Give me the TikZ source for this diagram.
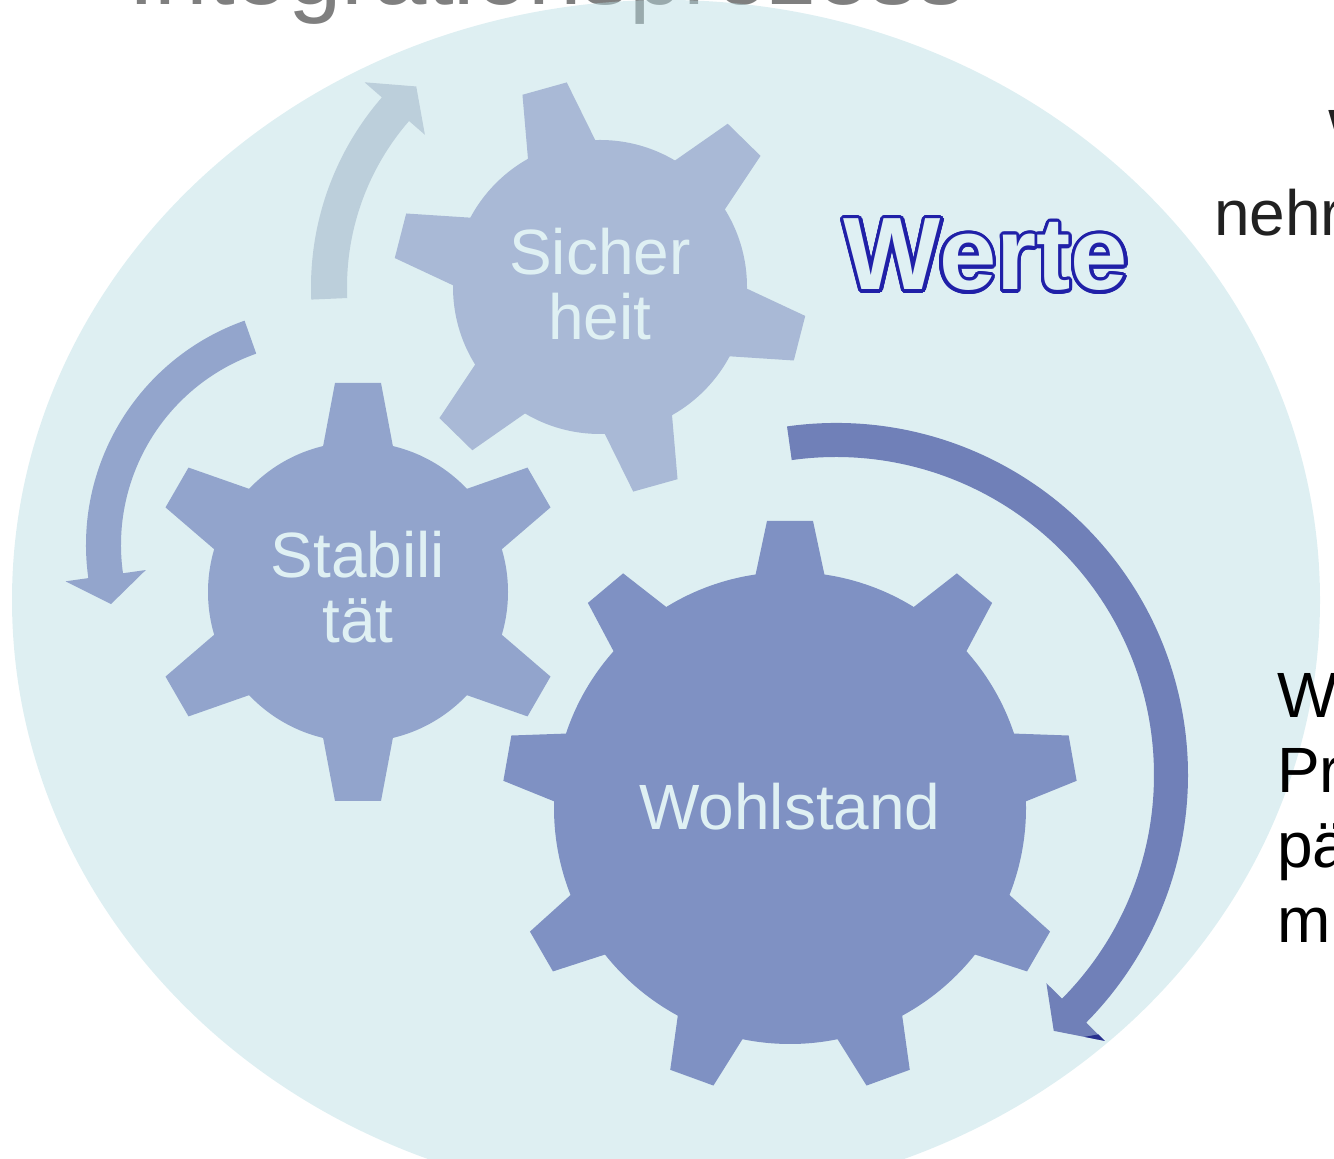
\documentclass[tikz,border=0pt]{standalone}
\usepackage{fontspec}
\setmainfont{Liberation Sans}
\usetikzlibrary{calc}

\definecolor{ringcol}{RGB}{184,221,227}
\definecolor{titlegray}{HTML}{7F7F7F}
\definecolor{gearone}{HTML}{A9B9D6}
\definecolor{geartwo}{HTML}{92A4CC}
\definecolor{gearthree}{HTML}{7F91C3}
\definecolor{arrowlight}{HTML}{BCCFDB}
\definecolor{arrowmid}{HTML}{93A5CC}
\definecolor{arrowdark}{HTML}{7080B8}
\definecolor{tipnavy}{HTML}{28308E}
\definecolor{gearfont}{HTML}{DFF0F3}
\definecolor{wertblau}{HTML}{2020A8}

% gear: centre x, centre y, body radius, tip radius, teeth, first angle, colour
\newcommand{\gearshape}[7]{%
  \begin{scope}[shift={(#1,#2)}]
    \fill[#7] (0,0) circle[radius=#3];
    \pgfmathsetmacro{\gstep}{360/#5}
    \foreach \k in {1,...,#5} {
      \fill[#7,rotate={#6+\k*\gstep}] (#3-10,-36) -- (#4,-23) -- (#4,23) -- (#3-10,36) -- cycle;
    }
  \end{scope}
}

\tikzset{
  geartext/.style={text=gearfont,font=\fontsize{64}{65}\selectfont,align=center,inner sep=0pt},
  sidetext/.style={font=\fontsize{64}{75}\selectfont,inner sep=0pt},
  werteword/.style={font=\bfseries\fontsize{103}{103}\selectfont,inner sep=0pt,anchor=base}
}

\begin{document}
\begin{tikzpicture}[x=1pt,y=1pt]
  \useasboundingbox (0,0) rectangle (1334,1159);
  \clip (0,0) rectangle (1334,1159);

  % title, mostly above the page
  \node[
    anchor=base west,
    inner sep=0pt,
    text=titlegray,
    font=\fontsize{96}{96}\selectfont] (title) at (128,1154) {Integrationsprozess};

  \fill[ringcol,opacity=0.465] (666,559) ellipse[x radius=654,y radius=600];

  % arrows
  \begin{scope}[shift={(600,872)}]
    \fill[arrowlight] (182.5:289) arc[start angle=182.5,end angle=139,radius=289]
      -- (139:312) -- (132.5:272) -- (139:232) -- (139:253)
      arc[start angle=139,end angle=182.5,radius=253] -- cycle;
  \end{scope}

  \begin{scope}[shift={(324,614)}]
    \fill[arrowmid] (109.5:238) arc[start angle=109.5,end angle=188,radius=238]
      -- (188:261) -- (195.5:221) -- (188:180) -- (188:203)
      arc[start angle=188,end angle=109.5,radius=203] -- cycle;
  \end{scope}

  \begin{scope}[shift={(836,384)}]
    \fill[arrowdark] (98:352) arc[start angle=98,end angle=-44.7,radius=352]
      -- (-44.7:378) -- (-49.6:336) -- (-44.7:296) -- (-44.7:318)
      arc[start angle=-44.7,end angle=98,radius=318] -- cycle;
    \fill[tipnavy] (-44.7:378) -- ($(-44.7:378)!0.4!(-49.6:336)$)
      -- ($(-44.7:378)!0.35!(-44.7:352)$) -- cycle;
  \end{scope}

  % gears
  \gearshape{600}{872}{147}{206}{6}{105.6}{gearone}
  \gearshape{358}{567}{150}{209}{6}{30}{geartwo}
  \gearshape{790}{351}{236}{287}{9}{10}{gearthree}

  \node[geartext] (sicher) at (600,874.4) {Sicher\\heit};
  \node[geartext] (stabil) at (358,571.4) {Stabili\\tät};
  \node[geartext,anchor=base] (wohl) at (790,329) {Wohlstand};

  % outlined word
  \foreach \a in {0,15,...,345}
    \node[werteword,text=wertblau] (werte-\a) at ($(986,869)+(\a:3.4)$) {Werte};
  \node[werteword,text=gearfont] (werte) at (986,869) {Werte};

  % text running off the right edge
  \node[sidetext,anchor=base west,text=black!87] (oben) at (1328,1004) {W};
  \node[sidetext,anchor=base west,text=black!87] (nehr) at (1214,923) {nehr};
  \node[sidetext,anchor=west,align=left] (rechts) at (1277,351.4) {W\\Pr\\pä\\m};

\end{tikzpicture}
\end{document}
